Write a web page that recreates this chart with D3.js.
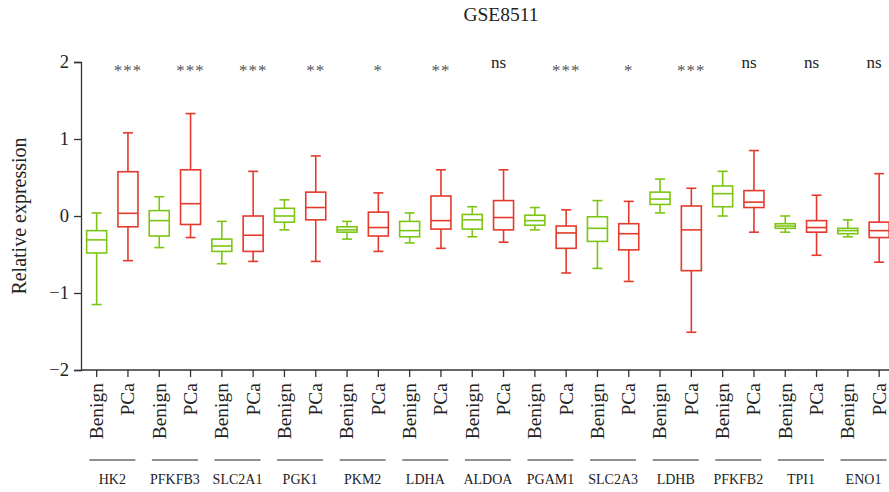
<!DOCTYPE html>
<html>
<head>
<meta charset="utf-8">
<script src="https://cdn.jsdelivr.net/npm/d3@7.9.0/dist/d3.min.js"></script>
<style>
  body { margin: 0; background: #fff; }
  svg { display: block; font-family: "Liberation Serif", "DejaVu Serif", serif; }
</style>
</head>
<body>
<svg id="chart" width="889" height="492"></svg>
<script>
const genes = ["HK2", "PFKFB3", "SLC2A1", "PGK1", "PKM2", "LDHA", "ALDOA",
  "PGAM1", "SLC2A3", "LDHB", "PFKFB2", "TPI1", "ENO1"];
const groups = ["Benign", "PCa"];
const significance = ["***", "***", "***", "**", "*", "**", "ns",
  "***", "*", "***", "ns", "ns", "ns"];

// [lower whisker, Q1, median, Q3, upper whisker] per gene
const benignStats = [
  [-1.15, -0.48, -0.31, -0.19, 0.04],
  [-0.41, -0.26, -0.06, 0.07, 0.25],
  [-0.62, -0.46, -0.39, -0.30, -0.07],
  [-0.18, -0.08, 0.00, 0.10, 0.21],
  [-0.30, -0.21, -0.18, -0.14, -0.07],
  [-0.35, -0.27, -0.19, -0.07, 0.04],
  [-0.27, -0.17, -0.05, 0.02, 0.12],
  [-0.18, -0.12, -0.06, 0.01, 0.11],
  [-0.68, -0.33, -0.16, -0.01, 0.20],
  [0.04, 0.15, 0.22, 0.31, 0.48],
  [0.00, 0.12, 0.29, 0.39, 0.58],
  [-0.21, -0.16, -0.13, -0.10, 0.00],
  [-0.27, -0.23, -0.19, -0.16, -0.05],
];
const pcaStats = [
  [-0.58, -0.14, 0.035, 0.575, 1.08],
  [-0.28, -0.11, 0.16, 0.60, 1.33],
  [-0.59, -0.46, -0.25, 0.00, 0.58],
  [-0.59, -0.05, 0.11, 0.31, 0.78],
  [-0.46, -0.26, -0.15, 0.05, 0.30],
  [-0.42, -0.17, -0.06, 0.26, 0.60],
  [-0.34, -0.18, -0.02, 0.20, 0.60],
  [-0.74, -0.42, -0.22, -0.13, 0.08],
  [-0.85, -0.44, -0.23, -0.10, 0.19],
  [-1.51, -0.71, -0.18, 0.13, 0.36],
  [-0.21, 0.11, 0.18, 0.33, 0.85],
  [-0.51, -0.21, -0.15, -0.06, 0.27],
  [-0.60, -0.28, -0.19, -0.08, 0.55],
];
const yTicks = [-2, -1, 0, 1, 2];

const colors = { Benign: "#7cc613", PCa: "#e5392b" };

const boxes = [];
genes.forEach((g, i) => {
  boxes.push({ gene: g, group: "Benign", key: g + "|Benign", s: benignStats[i] });
  boxes.push({ gene: g, group: "PCa", key: g + "|PCa", s: pcaStats[i] });
});

const svg = d3.select("#chart");
const margin = { left: 81, top: 62, bottom: 370 };

const x = d3.scaleBand()
  .domain(boxes.map(d => d.key))
  .range([margin.left, margin.left + 26 * 31.3])
  .paddingInner(0.36)
  .paddingOuter(0.18);
const y = d3.scaleLinear().domain([-2, 2]).range([margin.bottom, margin.top]);

const cx = k => x(k) + x.bandwidth() / 2;

// title
svg.append("text")
  .attr("x", 501).attr("y", 21)
  .attr("text-anchor", "middle")
  .attr("font-size", 19.5)
  .attr("fill", "#222")
  .text("GSE8511");

// y axis
const yAxis = svg.append("g")
  .attr("transform", `translate(${margin.left},0)`)
  .call(d3.axisLeft(y).tickValues(yTicks).tickSize(7).tickPadding(5)
    .tickFormat(d => d < 0 ? "\u2212" + Math.abs(d) : d));
yAxis.selectAll("text").attr("font-size", 18.5).attr("fill", "#222")
  .style("font-family", "Liberation Serif");
yAxis.selectAll("line, path").attr("stroke", "#333").attr("stroke-width", 1.3);

svg.append("text")
  .attr("transform", `translate(26,${y(0)}) rotate(-90)`)
  .attr("text-anchor", "middle")
  .attr("font-size", 20)
  .attr("fill", "#222")
  .text("Relative expression");

// x axis
const xAxis = svg.append("g")
  .attr("transform", `translate(0,${margin.bottom})`)
  .call(d3.axisBottom(x).tickSize(7).tickSizeOuter(0).tickFormat(k => k.split("|")[1]));
xAxis.select(".domain").attr("d", `M${margin.left},0H889`);
xAxis.selectAll("line, path").attr("stroke", "#333").attr("stroke-width", 1.3);
xAxis.selectAll("text")
  .attr("font-size", 19.5)
  .attr("fill", "#222")
  .style("font-family", "Liberation Serif")
  .attr("text-anchor", "end")
  .attr("transform", "rotate(-90)")
  .attr("x", -13)
  .attr("y", 0)
  .attr("dy", "0.33em");

// boxes
const bw = 20, cap = 10;
const g = svg.append("g").attr("fill", "none").attr("stroke-width", 1.6);
const box = g.selectAll("g.box").data(boxes).join("g")
  .attr("class", "box")
  .attr("stroke", d => colors[d.group]);

box.append("line")
  .attr("x1", d => cx(d.key)).attr("x2", d => cx(d.key))
  .attr("y1", d => y(d.s[0])).attr("y2", d => y(d.s[4]));
box.append("rect")
  .attr("x", d => cx(d.key) - bw / 2).attr("width", bw)
  .attr("y", d => y(d.s[3]))
  .attr("height", d => y(d.s[1]) - y(d.s[3]))
  .attr("fill", "#fff");
box.append("line")
  .attr("x1", d => cx(d.key) - bw / 2).attr("x2", d => cx(d.key) + bw / 2)
  .attr("y1", d => y(d.s[2])).attr("y2", d => y(d.s[2]));
[0, 4].forEach(i => {
  box.append("line")
    .attr("x1", d => cx(d.key) - cap / 2).attr("x2", d => cx(d.key) + cap / 2)
    .attr("y1", d => y(d.s[i])).attr("y2", d => y(d.s[i]));
});

// significance marks
svg.append("g").selectAll("text").data(genes).join("text")
  .attr("x", (gname, i) => cx(gname + "|PCa") - (significance[i] === "ns" ? 5 : 0))
  .attr("y", (gname, i) => significance[i] === "ns" ? 68 : 76)
  .attr("text-anchor", "middle")
  .attr("font-size", 17)
  .attr("letter-spacing", (gname, i) => significance[i] === "ns" ? 0 : 1)
  .attr("fill", (gname, i) => significance[i] === "ns" ? "#222" : "#555")
  .text((gname, i) => significance[i]);

// gene group labels
const gl = svg.append("g").selectAll("g").data(genes).join("g")
  .attr("transform", gname => {
    const mid = (cx(gname + "|Benign") + cx(gname + "|PCa")) / 2;
    return `translate(${mid},0)`;
  });
gl.append("line")
  .attr("x1", -23).attr("x2", 23)
  .attr("y1", 460).attr("y2", 460)
  .attr("stroke", "#222").attr("stroke-width", 1.2);
gl.append("text")
  .attr("y", 484)
  .attr("text-anchor", "middle")
  .attr("font-size", 14)
  .attr("fill", "#222")
  .text(d => d);
</script>
</body>
</html>
